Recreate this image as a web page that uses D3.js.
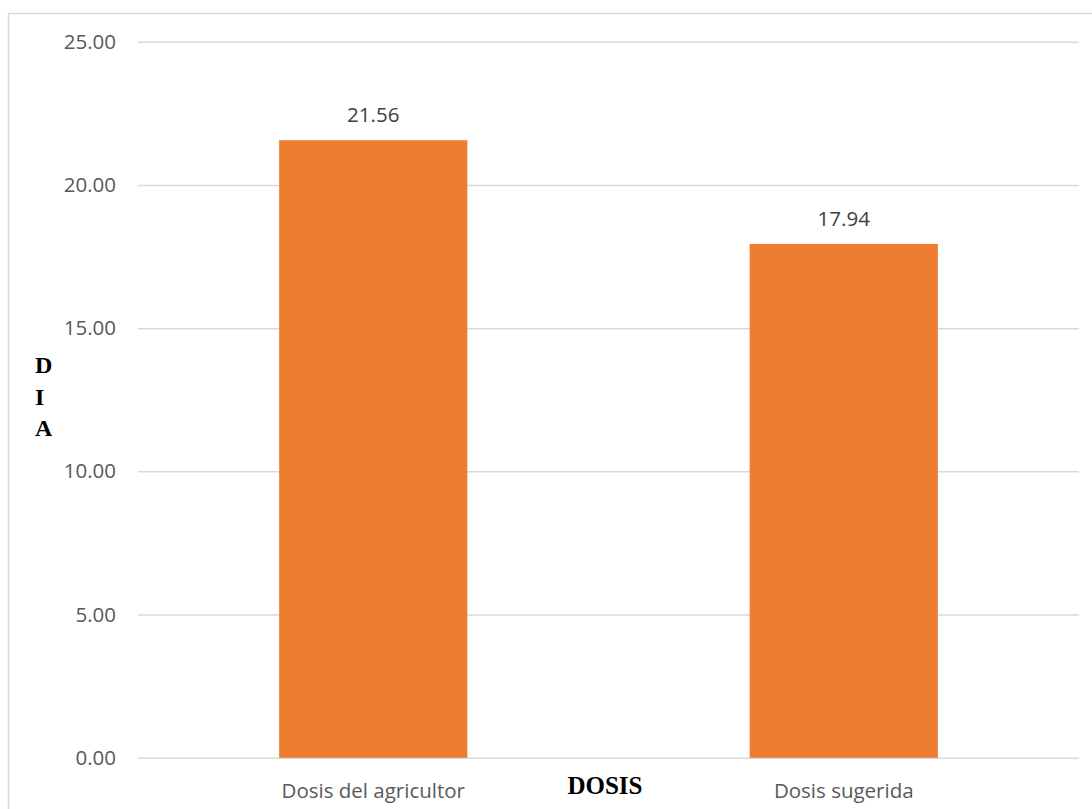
<!DOCTYPE html>
<html>
<head>
<meta charset="utf-8">
<script src="https://cdn.jsdelivr.net/npm/d3@7"></script>
<style>
  html, body { margin: 0; padding: 0; background: #fff; }
  svg { display: block; }
</style>
</head>
<body>
<svg id="chart" width="1092" height="809"></svg>
<script>
const categories = ["Dosis del agricultor", "Dosis sugerida"];
const values = [21.56, 17.94];
const yTicks = [0, 5, 10, 15, 20, 25];
const yTitleLetters = ["D", "I", "A"];
const xTitle = "DOSIS";

(function () {
const svg = d3.select("#chart");
const plotLeft = 138, plotRight = 1079, plotTop = 41.7, plotBottom = 757.8;

// chart frame
svg.append("rect")
  .attr("x", 8.5).attr("y", 13.5)
  .attr("width", 1200).attr("height", 1000)
  .attr("fill", "none").attr("stroke", "#d9d9d9").attr("stroke-width", 1.5);

const x = d3.scaleBand().domain(categories).range([plotLeft, plotRight])
  .paddingInner(0.6).paddingOuter(0.3);
const y = d3.scaleLinear().domain([0, 25]).range([plotBottom, plotTop]);

// gridlines + y axis labels
const yAxis = d3.axisLeft(y).tickValues(yTicks).tickFormat(d3.format(".2f"))
  .tickSize(-(plotRight - plotLeft)).tickPadding(22);
const gy = svg.append("g").attr("transform", `translate(${plotLeft},0)`).call(yAxis);
gy.select(".domain").remove();
gy.selectAll(".tick line").attr("stroke", "#d9d9d9").attr("stroke-width", 1.5);
gy.selectAll(".tick text")
  .attr("font-family", "'Open Sans', sans-serif").attr("font-size", 20.5)
  .attr("fill", "#595959");

// bars
svg.append("g").selectAll("rect").data(values).join("rect")
  .attr("x", (d, i) => x(categories[i]))
  .attr("width", x.bandwidth())
  .attr("y", d => y(d))
  .attr("height", d => y(0) - y(d))
  .attr("fill", "#ED7D31");

// value labels
svg.append("g").selectAll("text").data(values).join("text")
  .attr("x", (d, i) => x(categories[i]) + x.bandwidth() / 2)
  .attr("y", d => y(d) - 18)
  .attr("text-anchor", "middle")
  .attr("font-family", "'Open Sans', sans-serif").attr("font-size", 20.5)
  .attr("fill", "#404040")
  .text(d => d3.format(".2f")(d));

// x axis labels
const xAxis = d3.axisBottom(x).tickSize(0).tickPadding(0);
const gx = svg.append("g").attr("transform", `translate(0,${plotBottom})`).call(xAxis);
gx.select(".domain").remove();
gx.selectAll(".tick text")
  .attr("y", 40).attr("dy", 0)
  .attr("font-family", "'Open Sans', sans-serif").attr("font-size", 20.5)
  .attr("fill", "#595959");

// x title
svg.append("text")
  .attr("x", 605).attr("y", 794)
  .attr("text-anchor", "middle")
  .attr("font-family", "'Liberation Serif', 'Times New Roman', serif")
  .attr("font-weight", "bold").attr("font-size", 25)
  .attr("fill", "#000")
  .text(xTitle);

// y title (stacked letters)
svg.append("g").selectAll("text").data(yTitleLetters).join("text")
  .attr("x", 35)
  .attr("y", (d, i) => 373 + i * 31.5)
  .attr("font-family", "'Liberation Serif', 'Times New Roman', serif")
  .attr("font-weight", "bold").attr("font-size", 24)
  .attr("fill", "#000")
  .text(d => d);
})();
</script>
</body>
</html>
